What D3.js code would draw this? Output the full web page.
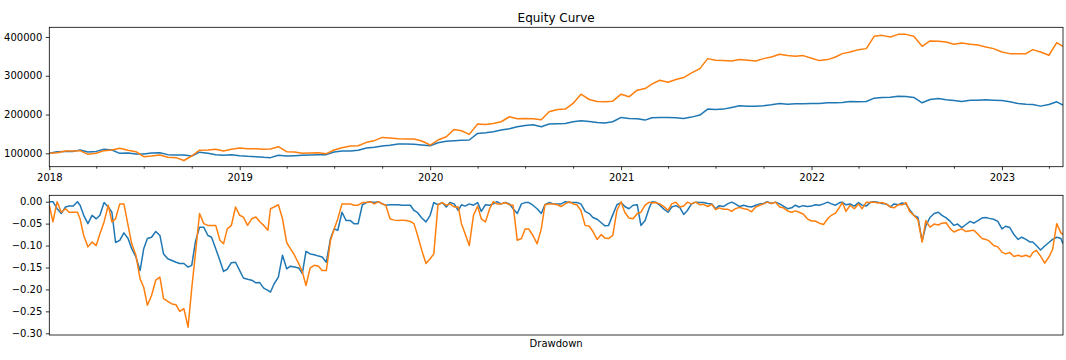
<!DOCTYPE html>
<html><head><meta charset="utf-8">
<script src="https://cdn.jsdelivr.net/npm/d3@7"></script>
<style>
body{margin:0;background:#fff}
svg{display:block}
text{font-family:"DejaVu Sans",sans-serif;fill:#000}
</style>
</head><body>
<svg id="c" width="1066" height="360"></svg>
<script>
// ---- data ----
// sampling dates: days 1, 8, 16, 24 of every month (drawdowns use all of them,
// equity curves use days 1 and 16), plus the final day
const startDate = "2018-01-01";
const lastRegularDate = "2023-04-24";
const endDate = "2023-04-28";
const sampleDays = [1, 8, 16, 24];
const equityDays = [1, 16];

const blueEquity = [
100000,104300,105000,105000,108600,103400,105000,110300,108600,100000,
100900,98300,98300,100900,101700,96600,95700,95700,93100,103000,
100000,96600,94900,96600,94000,92300,91400,89700,88900,94900,
93100,94000,94900,95700,96600,96600,103400,106000,106000,107700,
113700,115400,118900,120600,124000,124000,123100,121400,119700,127400,
130900,132600,133400,134300,151400,153100,155700,
160000,163400,168600,172000,173700,168600,175400,176300,177100,181400,
184000,182300,179700,178000,181400,192600,190000,189100,185700,191700,
192600,192600,191700,190000,193400,198600,214000,213100,214000,218300,
222600,221700,221700,222600,225100,228600,226800,227700,
227700,228600,228600,230300,230300,231100,233700,232800,233700,242300,
244000,244800,247400,246500,244000,230300,238800,241400,238000,236300,
233700,237100,237100,238000,237100,236300,232800,228600,226800,226000,
221700,226000,232800,224300];

const orangeEquity = [
100000,101700,106000,106000,106900,97400,100000,106900,108600,112900,
108000,104300,91400,93100,95700,89700,88900,81500,93100,108000,
108600,110300,106000,110300,113700,112000,112000,110300,111100,117100,
104300,103400,100000,100900,101700,99100,108600,114600,118900,119700,
128300,132600,141100,139400,137700,136900,136900,131700,121400,134300,
142900,161700,158300,148900,175400,174600,177100,
181400,194300,189000,190000,189000,186600,207000,213000,214000,228600,
252500,238800,233700,232800,234500,252500,245700,262800,267100,278300,
288500,283400,290300,295400,307400,318500,344200,340000,339100,338200,
341700,340000,338200,344200,348500,355400,352000,350200,
352000,345100,339100,341700,348500,357100,361400,367400,370000,401700,
404200,400000,406800,406800,401700,376000,389700,388800,387100,381100,
384500,381100,379400,374200,370000,361400,357100,357100,357100,367400,
361400,352900,385400,376000];

const blueDrawdown = [
0,0,-0.016,-0.027,-0.012,-0.01,-0.01,0,-0.008,-0.031,
-0.05,-0.031,-0.039,-0.031,-0.002,-0.012,-0.024,-0.093,-0.088,-0.071,
-0.084,-0.107,-0.126,-0.157,-0.107,-0.084,-0.081,-0.068,-0.077,-0.119,
-0.13,-0.134,-0.138,-0.141,-0.141,-0.149,-0.145,-0.092,-0.058,-0.058,
-0.077,-0.081,-0.107,-0.134,-0.159,-0.154,-0.139,-0.138,-0.157,-0.174,
-0.177,-0.179,-0.185,-0.184,-0.197,-0.202,-0.206,-0.187,-0.172,-0.122,
-0.153,-0.147,-0.149,-0.151,-0.164,
-0.113,-0.119,-0.121,-0.124,-0.126,-0.138,-0.084,-0.062,-0.065,-0.024,
-0.043,-0.043,-0.05,-0.05,-0.007,-0.002,0,-0.002,0,-0.005,
-0.008,-0.007,-0.007,-0.007,-0.008,-0.008,-0.008,-0.02,-0.025,-0.037,
-0.046,-0.031,-0.002,-0.007,-0.002,-0.012,-0.002,-0.005,-0.02,-0.007,
-0.01,-0.005,-0.008,-0.002,-0.022,-0.007,-0.008,-0.005,0,-0.005,
-0.002,-0.005,-0.016,-0.027,-0.005,-0.002,-0.002,-0.008,-0.016,-0.027,
-0.007,-0.002,-0.005,-0.005,
-0.005,0,-0.002,-0.002,-0.002,-0.005,-0.022,-0.027,-0.036,-0.04,
-0.048,-0.055,-0.054,-0.03,-0.007,-0.002,-0.011,-0.016,-0.008,-0.007,
-0.054,-0.043,-0.014,0,-0.001,-0.008,-0.017,-0.024,-0.012,-0.009,
-0.014,-0.029,-0.02,-0.005,-0.001,-0.002,-0.002,-0.004,-0.005,-0.016,
-0.009,-0.011,-0.005,-0.001,-0.005,-0.011,-0.008,-0.011,-0.012,-0.008,
-0.005,-0.004,0,-0.004,-0.001,-0.005,-0.01,-0.016,-0.014,-0.008,
-0.012,-0.009,-0.011,-0.01,
-0.007,-0.008,-0.005,-0.001,-0.005,-0.008,-0.002,-0.001,-0.007,-0.005,
-0.01,-0.002,-0.008,-0.01,-0.001,0,-0.001,-0.004,-0.005,-0.012,
-0.005,-0.007,-0.003,-0.005,-0.018,-0.031,-0.036,-0.09,-0.055,-0.036,
-0.027,-0.024,-0.031,-0.037,-0.045,-0.054,-0.051,-0.059,-0.052,-0.045,
-0.049,-0.043,-0.037,-0.036,-0.038,-0.04,-0.045,-0.062,-0.056,-0.059,
-0.075,-0.086,-0.081,-0.086,-0.092,-0.092,-0.1,-0.11,-0.101,-0.093,
-0.086,-0.081,-0.084,-0.096];

const orangeDrawdown = [
-0.008,-0.046,0,-0.024,-0.016,-0.024,-0.024,-0.024,-0.039,-0.077,
-0.103,-0.092,-0.1,-0.073,-0.046,-0.008,-0.046,-0.039,-0.005,-0.005,
-0.054,-0.096,-0.122,-0.176,-0.195,-0.236,-0.214,-0.179,-0.172,-0.221,
-0.227,-0.233,-0.235,-0.25,-0.244,-0.286,-0.198,-0.119,-0.027,-0.05,
-0.054,-0.054,-0.054,-0.088,-0.096,-0.062,-0.054,-0.012,-0.031,-0.035,
-0.054,-0.039,-0.035,-0.045,-0.054,-0.065,-0.016,-0.012,-0.007,-0.039,
-0.093,-0.107,-0.122,-0.141,-0.16,
-0.191,-0.151,-0.145,-0.147,-0.157,-0.157,-0.088,-0.062,-0.039,-0.005,
-0.005,-0.005,-0.008,-0.008,-0.002,-0.002,0,-0.005,0,-0.005,
-0.008,-0.039,-0.042,-0.043,-0.042,-0.043,-0.045,-0.05,-0.077,-0.111,
-0.141,-0.13,-0.119,-0.007,-0.002,-0.008,-0.005,-0.012,-0.012,-0.05,
-0.073,-0.1,-0.031,-0.01,-0.039,-0.046,-0.016,0,-0.005,-0.005,
-0.002,-0.007,-0.008,-0.088,-0.084,-0.062,-0.062,-0.077,-0.096,-0.062,
-0.007,-0.005,-0.005,-0.007,
-0.011,-0.005,0,-0.005,-0.007,-0.02,-0.054,-0.056,-0.068,-0.086,
-0.075,-0.083,-0.084,-0.077,-0.02,0,-0.024,-0.037,-0.039,-0.027,
-0.024,-0.008,-0.001,-0.003,-0.002,-0.005,-0.011,-0.02,-0.005,-0.001,
-0.012,-0.01,-0.001,-0.005,-0.001,-0.007,-0.006,-0.011,-0.006,-0.018,
-0.014,-0.017,-0.017,-0.022,-0.016,-0.013,-0.016,-0.018,-0.023,-0.012,
-0.008,-0.005,-0.001,-0.004,-0.001,-0.012,-0.014,-0.021,-0.024,-0.021,
-0.024,-0.028,-0.039,-0.044,
-0.044,-0.049,-0.052,-0.039,-0.031,-0.026,-0.012,-0.002,-0.022,-0.008,
-0.016,-0.005,-0.016,-0.001,-0.002,-0.001,-0.003,-0.002,-0.005,-0.012,
-0.014,-0.007,-0.007,-0.002,-0.022,-0.031,-0.041,-0.092,-0.043,-0.058,
-0.051,-0.053,-0.049,-0.048,-0.062,-0.069,-0.065,-0.062,-0.068,-0.066,
-0.065,-0.074,-0.084,-0.086,-0.09,-0.1,-0.103,-0.115,-0.119,-0.116,
-0.125,-0.122,-0.125,-0.122,-0.126,-0.116,-0.111,-0.124,-0.14,-0.126,
-0.109,-0.05,-0.071,-0.075];

const equityTicks = [100000, 200000, 300000, 400000];
const drawdownTicks = [0, -0.05, -0.10, -0.15, -0.20, -0.25, -0.30];
const titleText = "Equity Curve";
const drawdownLabel = "Drawdown";
const seriesColors = ["#1f77b4", "#ff7f0e"];

// ---- date grids ----
const parse = d3.utcParse("%Y-%m-%d");
function buildDates(days) {
  const out = [];
  const s = parse(startDate), e = parse(lastRegularDate);
  for (let m = d3.utcMonth.floor(s); m <= e; m = d3.utcMonth.offset(m, 1)) {
    days.forEach(d => {
      const dt = d3.utcDay.offset(m, d - 1);
      if (dt <= e) out.push(dt);
    });
  }
  out.push(parse(endDate));
  return out;
}
const ddDates = buildDates(sampleDays);
const eqDates = buildDates(equityDays);

// ---- layout ----
const svg = d3.select("#c");
const L = 49.3, R = 1063;
const top1 = {t: 27.3, b: 166.7};
const top2 = {t: 195.3, b: 335};
const first = ddDates[0], last = ddDates[ddDates.length - 1];

const x = d3.scaleUtc().domain([first, last]).range([L, R]);
const y1 = d3.scaleLinear().domain([65500, 425000]).range([top1.b, top1.t]);
const y2 = d3.scaleLinear().domain([-0.3039, 0.0146]).range([top2.b, top2.t]);

const defs = svg.append("defs");
defs.append("clipPath").attr("id", "clip1").append("rect")
  .attr("x", L).attr("y", top1.t).attr("width", R - L).attr("height", top1.b - top1.t);
defs.append("clipPath").attr("id", "clip2").append("rect")
  .attr("x", L).attr("y", top2.t).attr("width", R - L).attr("height", top2.b - top2.t);

function drawLines(yScale, dts, seriesList, clip) {
  const g = svg.append("g").attr("clip-path", `url(#${clip})`);
  seriesList.forEach((vals, k) => {
    const pts = dts.map((d, i) => [d, vals[i]]).filter(p => p[1] !== undefined);
    g.append("path")
      .datum(pts)
      .attr("fill", "none")
      .attr("stroke", seriesColors[k])
      .attr("stroke-width", 1.5)
      .attr("stroke-linejoin", "round")
      .attr("d", d3.line().x(p => x(p[0])).y(p => yScale(p[1])));
  });
}

drawLines(y1, eqDates, [blueEquity, orangeEquity], "clip1");
drawLines(y2, ddDates, [blueDrawdown, orangeDrawdown], "clip2");

function styleAxis(g) {
  g.select(".domain").remove();
  g.selectAll("line").attr("stroke", "#000").attr("stroke-width", 0.8);
  g.selectAll("text").attr("font-size", 10).attr("font-family", '"DejaVu Sans",sans-serif').attr("fill", "#000");
}

// top x-axis: years (major) and quarters (minor)
const yearTicks = d3.utcYear.every(1).range(first, d3.utcDay.offset(last, 1));
svg.append("g").attr("transform", `translate(0,${top1.b})`)
  .call(d3.axisBottom(x).tickValues(yearTicks).tickFormat(d3.utcFormat("%Y")).tickSize(3.5).tickPadding(3.5))
  .call(styleAxis);
const quarterTicks = d3.utcMonth.every(3).range(first, last).filter(d => d.getUTCMonth() !== 0);
svg.append("g").attr("transform", `translate(0,${top1.b})`)
  .call(d3.axisBottom(x).tickValues(quarterTicks).tickFormat("").tickSize(2))
  .call(styleAxis);

// y-axes
svg.append("g").attr("transform", `translate(${L},0)`)
  .call(d3.axisLeft(y1).tickValues(equityTicks).tickFormat(d3.format("d")).tickSize(3.5).tickPadding(3.5))
  .call(styleAxis);
svg.append("g").attr("transform", `translate(${L},0)`)
  .call(d3.axisLeft(y2).tickValues(drawdownTicks).tickFormat(d3.format(".2f")).tickSize(3.5).tickPadding(3.5))
  .call(styleAxis);

// frames
[top1, top2].forEach(p => {
  svg.append("rect").attr("x", L).attr("y", p.t).attr("width", R - L).attr("height", p.b - p.t)
    .attr("fill", "none").attr("stroke", "#000").attr("stroke-width", 0.8);
});

// title & label
svg.append("text").attr("x", (L + R) / 2).attr("y", 21.5).attr("text-anchor", "middle")
  .attr("font-size", 12).text(titleText);
svg.append("text").attr("x", (L + R) / 2).attr("y", 347).attr("text-anchor", "middle")
  .attr("font-size", 10).text(drawdownLabel);
</script>
</body></html>
